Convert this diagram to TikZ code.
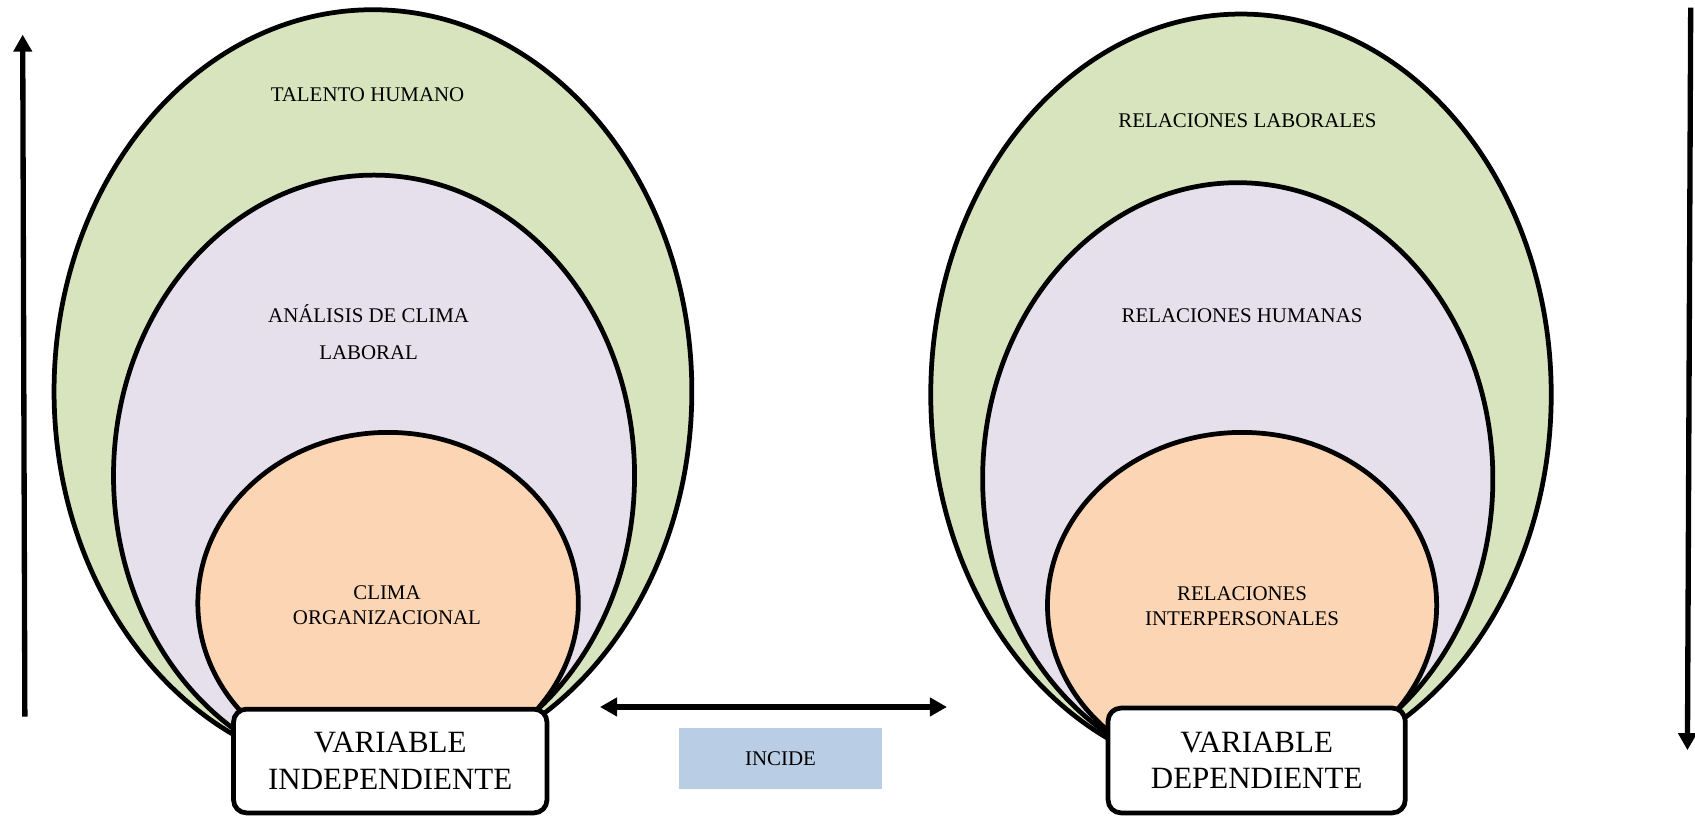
\documentclass[tikz,border=0pt]{standalone}
\usepackage{fontspec}
\setmainfont{Liberation Serif}
\usetikzlibrary{
    arrows.meta
}
\definecolor{verde}{HTML}{D7E4BD}
\definecolor{lila}{HTML}{E5E0EC}
\definecolor{durazno}{HTML}{FCD5B5}
\definecolor{celeste}{HTML}{B9CDE5}
\tikzset{
  capa/.style={
    draw=black,
    line width=2.5pt
  },
  etiqueta/.style={
    align=center,
    inner sep=1.5pt,
    font=\fontsize{11pt}{13.1pt}\selectfont
  },
  caja/.style={
    draw=black,
    fill=white,
    line width=2.5pt,
    rounded corners=0.24cm,
    align=center,
    font=\fontsize{16.3pt}{19.3pt}\selectfont
  },
  flecha/.style={
    line width=2.8pt,
    -{Triangle[length=9pt,width=9.5pt]}
  }
}

\begin{document}
\begin{tikzpicture}[x=0.02cm,y=-0.02cm]
    \useasboundingbox (0,0) rectangle (1568,756);

    %-------------------------
    %izquierda: variable independiente
    %-------------------------
    \draw[capa,fill=verde] (345,362) ellipse [x radius=295,y radius=353];
    \draw[capa,fill=lila] (346,440) ellipse [x radius=241,y radius=278];
    \draw[capa,fill=durazno] (359,558) ellipse [x radius=176,y radius=158];

    \node[etiqueta] (th) at (340,88) {TALENTO HUMANO};
    \node[etiqueta] (acl) at (341,307) {ANÁLISIS DE CLIMA\\[6.2pt]LABORAL};
    \node[etiqueta] (co) at (358,559.5) {CLIMA\\ORGANIZACIONAL};
    \node[caja,minimum width=5.8cm,minimum height=1.92cm] (vi) at (361,704)
        {VARIABLE\\INDEPENDIENTE};

    %-------------------------
    %derecha: variable dependiente
    %-------------------------
    \draw[capa,fill=verde] (1148,365) ellipse [x radius=287,y radius=352];
    \draw[capa,fill=lila] (1145,443) ellipse [x radius=236,y radius=274];
    \draw[capa,fill=durazno] (1149,560) ellipse [x radius=180,y radius=160];

    \node[etiqueta] (rl) at (1154,112) {RELACIONES LABORALES};
    \node[etiqueta] (rh) at (1149,292) {RELACIONES HUMANAS};
    \node[etiqueta] (ri) at (1149,560.5) {RELACIONES\\INTERPERSONALES};
    \node[caja,minimum width=5.5cm,minimum height=1.94cm] (vd) at (1162.5,703.5)
        {VARIABLE\\DEPENDIENTE};

    %-------------------------
    %centro y flechas
    %-------------------------
    \node[etiqueta,fill=celeste,minimum width=3.76cm,minimum height=1.14cm] (inc)
        at (722,701.5) {INCIDE};

    \coordinate (ia) at (555,654);
    \coordinate (ib) at (876,654);
    \coordinate (sube1) at (23,663);
    \coordinate (sube2) at (21,32);
    \coordinate (baja1) at (1564,7);
    \coordinate (baja2) at (1561,694);

    \draw[flecha,{Triangle[length=9pt,width=9.5pt]}-{Triangle[length=9pt,width=9.5pt]}] (ia) -- (ib);
    \draw[flecha] (sube1) -- (sube2);
    \draw[flecha] (baja1) -- (baja2);

\end{tikzpicture}
\end{document}
